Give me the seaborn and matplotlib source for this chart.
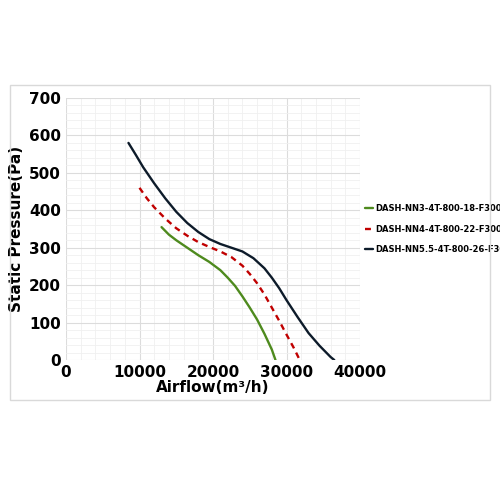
import matplotlib
matplotlib.use("Agg")
import matplotlib.pyplot as plt
import seaborn as sns
import pandas as pd
from matplotlib.patches import Rectangle

green_x = [13000, 14000, 15000, 16500, 18000, 19500, 21000, 22000, 23000, 24000, 25000, 26000, 27000, 28000, 28500]
green_y = [355, 335, 320, 300, 280, 262, 240, 220, 198, 170, 140, 108, 70, 28, 0]
red_x = [10000, 11000, 12000, 13500, 15000, 16500, 18000, 19500, 21000, 22500, 24000, 25000, 26000, 27000, 28000, 29000, 30000, 31000, 31800]
red_y = [460, 432, 408, 378, 352, 332, 315, 302, 290, 275, 252, 230, 205, 175, 140, 105, 68, 32, 0]
black_x = [8500, 9500, 10500, 12000, 13500, 15000, 16500, 18000, 19500, 21000, 22500, 24000, 25500, 27000, 28000, 29000, 30000, 31500, 33000, 34500, 36000, 36500]
black_y = [580, 548, 515, 472, 432, 396, 366, 342, 323, 310, 300, 290, 272, 245, 220, 192, 160, 115, 72, 38, 8, 0]
names = ["DASH-NN3-4T-800-18-F300", "DASH-NN4-4T-800-22-F300", "DASH-NN5.5-4T-800-26-F300"]

sns.set_style("white")
plt.rcParams["text.color"] = "black"
fig = plt.figure(figsize=(5, 5), dpi=100)
fig.patches.append(Rectangle((0.02, 0.2), 0.96, 0.63, transform=fig.transFigure,
                             fill=False, edgecolor="#d9d9d9", lw=1))
ax = fig.add_axes([0.132, 0.28, 0.588, 0.524])
styles = [("#4e8a1e", "-"), ("#c00000", (0, (2.5, 2))), ("#0d1b2a", "-")]
for (xs, ys), n, (c, ls) in zip([(green_x, green_y), (red_x, red_y), (black_x, black_y)], names, styles):
    df = pd.DataFrame({"x": xs, "y": ys})
    sns.lineplot(data=df, x="x", y="y", ax=ax, color=c, linestyle=ls, lw=1.7, label=n)
ax.set_xlim(0, 40000)
ax.set_ylim(0, 700)
ax.set_xticks(range(0, 40001, 10000))
ax.set_yticks(range(0, 701, 100))
ax.set_xticks(range(0, 40001, 2000), minor=True)
ax.set_yticks(range(0, 701, 20), minor=True)
ax.grid(which="major", color="#dcdcdc", lw=0.8)
ax.grid(which="minor", color="#f0f0f0", lw=0.6)
for s in ax.spines.values():
    s.set_visible(False)
ax.tick_params(labelsize=11, length=0, labelcolor="black")
for t in ax.get_xticklabels() + ax.get_yticklabels():
    t.set_fontweight("bold")
ax.set_xlabel("Airflow(m³/h)", fontsize=11, fontweight="bold", labelpad=0, color="black")
ax.set_ylabel("Static Pressure(Pa)", fontsize=11, fontweight="bold", color="black")
leg = ax.legend(loc="center left", bbox_to_anchor=(0.99, 0.5), frameon=False,
                prop={"size": 6, "weight": "bold"}, handlelength=1.0, handletextpad=0.3,
                labelspacing=1.4)
fig.savefig("out.png", dpi=100)
